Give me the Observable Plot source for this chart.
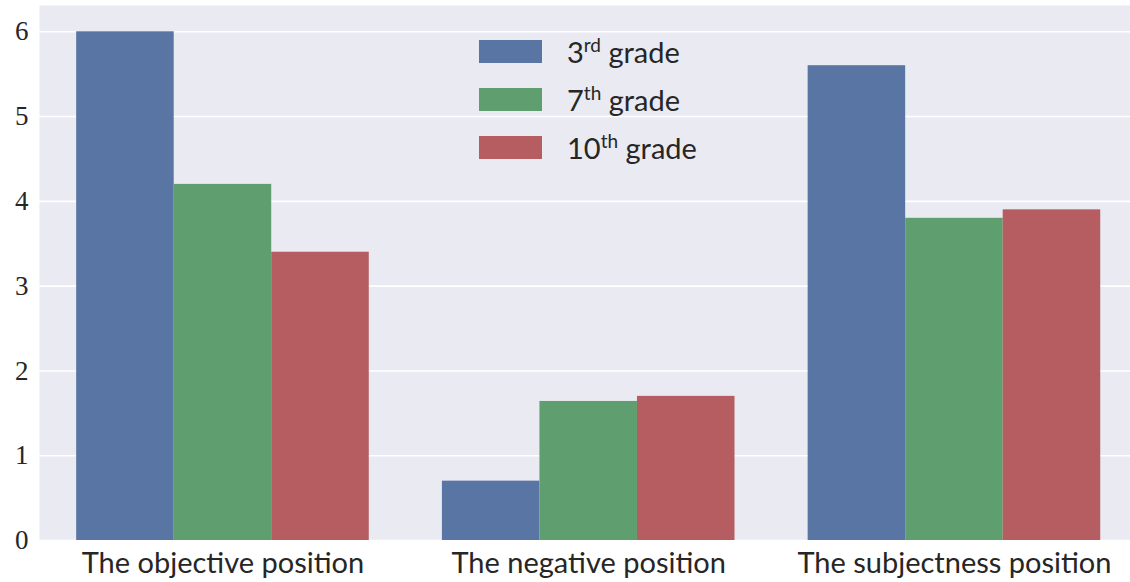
<!DOCTYPE html>
<html><head><meta charset="utf-8">
<script src="https://cdn.jsdelivr.net/npm/d3@7"></script>
<script src="https://cdn.jsdelivr.net/npm/@observablehq/plot@0.6"></script>
<style>
body{margin:0;background:#fff;overflow:hidden}
#wrap{position:relative;width:1130px;height:582px}
#legend{position:absolute;left:479px;top:39px;font-family:Lato,sans-serif;font-size:29px;color:#262626}
.row{display:flex;align-items:center;height:48px}
.sw{width:63px;height:23px;margin-right:25px}
sup{font-size:19px;vertical-align:0;position:relative;top:-11px}
</style>
</head><body><div id="wrap"></div>
<script>
const categories = ["The objective position", "The negative position", "The subjectness position"];
const grades = ["3rd grade", "7th grade", "10th grade"];
const gradeNum = ["3", "7", "10"];
const gradeSup = ["rd", "th", "th"];
const values3rd = [6.0, 0.70, 5.6];
const values7th = [4.2, 1.64, 3.8];
const values10th = [3.4, 1.70, 3.9];
const colors = ["#5975A4", "#5F9E6E", "#B55D60"];
const yTicks = [0, 1, 2, 3, 4, 5, 6];

const series = [values3rd, values7th, values10th];
const rows = [];
categories.forEach((c, ci) => series.forEach((vals, gi) => rows.push({ci, gi, category: c, grade: grades[gi], value: vals[ci]})));
const groupWidth = 0.8, n = grades.length;

const chart = Plot.plot({
  width: 1130, height: 582,
  marginLeft: 39, marginRight: 0, marginTop: 5, marginBottom: 42,
  x: {type: "linear", domain: [-0.5, 2.5], range: [39.6, 1136.8]},
  y: {domain: [0, 6.31]},
  color: {domain: grades, range: colors},
  marks: [
    Plot.frame({fill: "#EAEAF2", stroke: null}),
    Plot.gridY(yTicks, {stroke: "#fff", strokeOpacity: 1, strokeWidth: 1.6}),
    Plot.rectY(rows, {
      x1: d => d.ci - groupWidth / 2 + d.gi * groupWidth / n,
      x2: d => d.ci - groupWidth / 2 + (d.gi + 1) * groupWidth / n,
      y: "value", fill: "grade"
    }),
    Plot.axisY({ticks: yTicks, tickFormat: d3.format("d"), tickSize: 0, tickPadding: 11, label: null,
      fontSize: 27, fontFamily: "Liberation Serif, serif", fill: "#262626"}),
    Plot.axisX({ticks: [0, 1, 2], tickFormat: i => categories[i], tickSize: 0, tickPadding: 12, label: null,
      fontSize: 29, fontFamily: "Lato, sans-serif", fill: "#262626"})
  ]
});
const wrap = document.getElementById("wrap");
wrap.appendChild(chart);
const legend = document.createElement("div");
legend.id = "legend";
legend.style.marginTop = "-12px";
grades.forEach((g, i) => {
  const row = document.createElement("div");
  row.className = "row";
  row.innerHTML = `<div class="sw" style="background:${colors[i]}"></div><span>${gradeNum[i]}<sup>${gradeSup[i]}</sup> grade</span>`;
  legend.appendChild(row);
});
wrap.appendChild(legend);
</script>
</body></html>
